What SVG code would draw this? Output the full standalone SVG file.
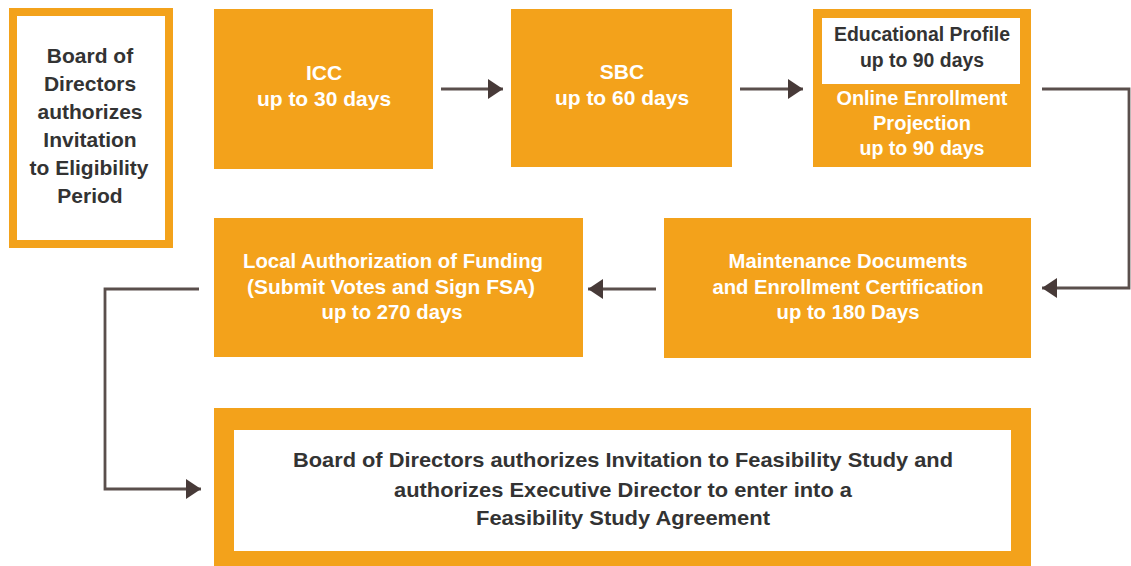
<svg xmlns="http://www.w3.org/2000/svg" width="1131" height="566" viewBox="0 0 1131 566">
<style>
.box{fill:#F3A21B}
.inner{fill:#FFFFFF}
.wt{font-family:"Liberation Sans",Arial,sans-serif;font-weight:bold;fill:#FFFFFF;text-anchor:middle}
.dk{font-family:"Liberation Sans",Arial,sans-serif;font-weight:bold;fill:#333333;text-anchor:middle}
.conn{fill:none;stroke:#5A4F4C;stroke-width:2.8}
</style>
<defs>
<marker id="ah" markerUnits="userSpaceOnUse" markerWidth="18" markerHeight="22" viewBox="0 0 18 22" refX="15" refY="11" orient="auto">
<path d="M0,1 L15,11 L0,21 Z" fill="#473A38"/>
</marker>
</defs>
<rect width="1131" height="566" fill="#FFFFFF"/>
<g id="board-eligibility">
<rect class="box" x="9" y="8" width="164" height="240"/>
<rect class="inner" x="17" y="16" width="148" height="224"/>
<text class="dk" font-size="21"><tspan x="90" y="63">Board of</tspan><tspan x="90" y="91">Directors</tspan><tspan x="90" y="119">authorizes</tspan><tspan x="90" y="147">Invitation</tspan><tspan x="89" y="175">to Eligibility</tspan><tspan x="90" y="203">Period</tspan></text>
</g>
<g id="icc">
<rect class="box" x="214" y="9" width="219" height="160"/>
<text class="wt" font-size="21"><tspan x="324" y="80">ICC</tspan><tspan x="324" y="106">up to 30 days</tspan></text>
</g>
<g id="sbc">
<rect class="box" x="511" y="9" width="221" height="158"/>
<text class="wt" font-size="21"><tspan x="622" y="79">SBC</tspan><tspan x="622" y="105">up to 60 days</tspan></text>
</g>
<g id="enrollment">
<rect class="box" x="813" y="9" width="218" height="158"/>
<rect class="inner" x="822" y="18" width="198" height="66"/>
<text class="dk" font-size="20" x="922" y="41" textLength="176" lengthAdjust="spacingAndGlyphs">Educational Profile</text>
<text class="dk" font-size="20" x="922" y="67" textLength="124" lengthAdjust="spacingAndGlyphs">up to 90 days</text>
<text class="wt" font-size="20" x="922" y="105" textLength="171" lengthAdjust="spacingAndGlyphs">Online Enrollment</text>
<text class="wt" font-size="20" x="922" y="130" textLength="98" lengthAdjust="spacingAndGlyphs">Projection</text>
<text class="wt" font-size="20" x="922" y="155" textLength="125" lengthAdjust="spacingAndGlyphs">up to 90 days</text>
</g>
<g id="maintenance">
<rect class="box" x="664" y="218" width="367" height="140"/>
<text class="wt" font-size="20" x="848" y="268" textLength="239" lengthAdjust="spacingAndGlyphs">Maintenance Documents</text>
<text class="wt" font-size="20" x="848" y="294" textLength="271" lengthAdjust="spacingAndGlyphs">and Enrollment Certification</text>
<text class="wt" font-size="20" x="848" y="319" textLength="143" lengthAdjust="spacingAndGlyphs">up to 180 Days</text>
</g>
<g id="local-funding">
<rect class="box" x="214" y="218" width="369" height="139"/>
<text class="wt" font-size="20" x="393" y="268" textLength="300" lengthAdjust="spacingAndGlyphs">Local Authorization of Funding</text>
<text class="wt" font-size="20" x="391" y="294" textLength="288" lengthAdjust="spacingAndGlyphs">(Submit Votes and Sign FSA)</text>
<text class="wt" font-size="20" x="392" y="319" textLength="141" lengthAdjust="spacingAndGlyphs">up to 270 days</text>
</g>
<g id="board-feasibility">
<rect class="box" x="214" y="408" width="817" height="165"/>
<rect class="inner" x="234" y="430" width="777" height="121"/>
<text class="dk" font-size="21" x="623" y="467" textLength="660" lengthAdjust="spacingAndGlyphs">Board of Directors authorizes Invitation to Feasibility Study and</text>
<text class="dk" font-size="21" x="623" y="497" textLength="458" lengthAdjust="spacingAndGlyphs">authorizes Executive Director to enter into a</text>
<text class="dk" font-size="21" x="623" y="525" textLength="294" lengthAdjust="spacingAndGlyphs">Feasibility Study Agreement</text>
</g>
<g id="connectors">
<path class="conn" d="M441,89 H503" marker-end="url(#ah)"/>
<path class="conn" d="M740,89 H803" marker-end="url(#ah)"/>
<path class="conn" d="M1042,89 H1129 V288 H1042" marker-end="url(#ah)"/>
<path class="conn" d="M656,289 H588" marker-end="url(#ah)"/>
<path class="conn" d="M199,289 H105 V489 H201" marker-end="url(#ah)"/>
</g>
</svg>
